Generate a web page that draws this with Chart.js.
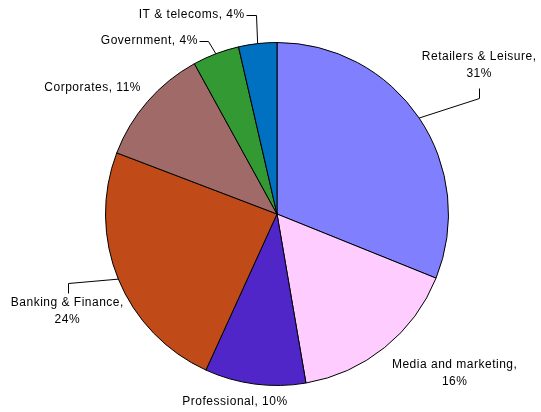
<!DOCTYPE html>
<html>
<head>
<meta charset="utf-8">
<script src="https://cdn.jsdelivr.net/npm/chart.js@4/dist/chart.umd.min.js"></script>
<style>
  html, body { margin: 0; padding: 0; background: #fff; }
  canvas { display: block; }
</style>
</head>
<body>
<canvas id="grafico" width="541" height="412"></canvas>
<script>
const categorias = [
  'Retailers & Leisure', 'Media and marketing', 'Professional',
  'Banking & Finance', 'Corporates', 'Government', 'IT & telecoms'
]
const valores = [31.1, 16.2, 9.5, 24.0, 11.2, 4.4, 3.6]
const cores = ['#8080FF', '#FFCCFF', '#5026C8', '#C04A18', '#A06A68', '#339933', '#0070C0']

// label layout relative to the slice edge point (mid angle)
// quebra: two lines, dx/dy: first line anchor, align, leader: elbow points
const layoutRotulos = [
  { quebra: true, dx: 60, dy: -61, align: 'center', leader: [[60, -20], [60, -30]] },
  { quebra: true, dx: 70, dy: 17, align: 'center', leader: null },
  { quebra: false, dx: -20, dy: 18, align: 'center', leader: null },
  { quebra: true, dx: -51, dy: 24, align: 'center', leader: [[-50, 4], [-50, 14]] },
  { quebra: false, dx: -55, dy: -14, align: 'center', leader: null },
  { quebra: false, dx: -18, dy: -13, align: 'right', leader: [[-8, -13], [-17, -13]] },
  { quebra: false, dx: -13, dy: -29, align: 'right', leader: [[-2, -29], [-12, -29]] }
]

const rotulosPlugin = {
  id: 'rotulos',
  afterDatasetsDraw(chart) {
    const ctx = chart.ctx
    const arcos = chart.getDatasetMeta(0).data
    const total = valores.reduce((a, b) => a + b, 0)
    ctx.save()
    ctx.font = '12px "Liberation Sans", Arial, sans-serif'
    ctx.letterSpacing = '0.5px'
    ctx.fillStyle = '#000'
    ctx.strokeStyle = '#000'
    ctx.lineWidth = 1
    ctx.textBaseline = 'middle'
    arcos.forEach((arc, i) => {
      const p = arc.getProps(['x', 'y', 'startAngle', 'endAngle', 'outerRadius'], true)
      const meio = (p.startAngle + p.endAngle) / 2
      const ex = p.x + p.outerRadius * Math.cos(meio)
      const ey = p.y + p.outerRadius * Math.sin(meio)
      const lay = layoutRotulos[i]
      const pct = Math.round(valores[i] / total * 100) + '%'
      if (lay.leader) {
        ctx.beginPath()
        ctx.moveTo(ex, ey)
        lay.leader.forEach(([lx, ly]) => ctx.lineTo(Math.round(ex + lx) + 0.5, Math.round(ey + ly) + 0.5))
        ctx.stroke()
      }
      ctx.textAlign = lay.align
      const tx = ex + lay.dx
      const ty = ey + lay.dy
      if (lay.quebra) {
        ctx.fillText(categorias[i] + ',', tx, ty)
        ctx.fillText(pct, tx, ty + 17)
      } else {
        ctx.fillText(categorias[i] + ', ' + pct, tx, ty)
      }
    })
    ctx.restore()
  }
}

new Chart(document.getElementById('grafico').getContext('2d'), {
  type: 'pie',
  data: {
    labels: categorias,
    datasets: [{
      data: valores,
      backgroundColor: cores,
      borderColor: '#000',
      borderWidth: 1
    }]
  },
  options: {
    responsive: false,
    animation: false,
    layout: { padding: { top: 42, bottom: 26, left: 105, right: 92 } },
    plugins: {
      legend: { display: false },
      tooltip: { enabled: false }
    }
  },
  plugins: [rotulosPlugin]
})
</script>
</body>
</html>
